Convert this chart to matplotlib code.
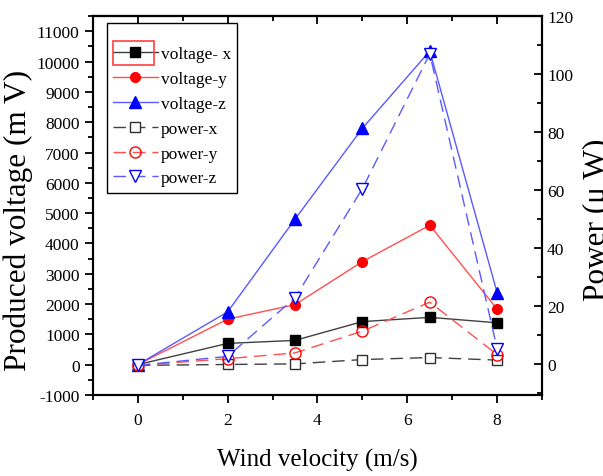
import matplotlib
matplotlib.use('Agg')
import matplotlib.pyplot as plt
from matplotlib.ticker import MultipleLocator
from matplotlib.patches import Rectangle

plt.rcParams['font.family'] = ['Liberation Serif', 'DejaVu Serif']
plt.rcParams['axes.unicode_minus'] = False

wind = [0, 2, 3.5, 5, 6.5, 8]
volt_x = [0, 700, 800, 1420, 1560, 1380]
volt_y = [0, 1500, 1980, 3400, 4600, 1830]
volt_z = [0, 1740, 4800, 7800, 10350, 2370]
pow_x = [-0.5, -0.2, 0, 1.5, 2.2, 1.3]
pow_y = [-0.5, 1.8, 3.8, 11.3, 21.3, 3.2]
pow_z = [-0.5, 2.6, 22.8, 60.5, 107, 5.2]

fig = plt.figure(figsize=(6.03, 4.77), dpi=100)
ax = fig.add_axes([0.154, 0.170, 0.745, 0.794])
ax2 = ax.twinx()

l1, = ax.plot(wind, volt_x, color='#404040', lw=1, marker='s', ms=7,
              mfc='black', mec='black', label='voltage- x')
l2, = ax.plot(wind, volt_y, color='#ff5050', lw=1, marker='o', ms=7,
              mfc='red', mec='red', label='voltage-y')
l3, = ax.plot(wind, volt_z, color='#5a5aff', lw=1, marker='^', ms=8,
              mfc='blue', mec='blue', label='voltage-z')
d = (0, (9, 5))
p1, = ax2.plot(wind, pow_x, color='#404040', lw=1, ls=d, marker='s', ms=7,
               mfc='white', mec='#303030', label='power-x')
p2, = ax2.plot(wind, pow_y, color='#ff5050', lw=1, ls=d, marker='o', ms=8,
               mfc='none', mec='red', label='power-y')
p3, = ax2.plot(wind, pow_z, color='#5a5aff', lw=1, ls=d, marker='v', ms=8,
               mfc='white', mec='blue', label='power-z')

ax.set_xlim(-1, 9)
ax.set_ylim(-1000, 11500)
ax2.set_ylim(-10.7, 120)

ax.xaxis.set_major_locator(MultipleLocator(2))
ax.xaxis.set_minor_locator(MultipleLocator(1))
ax.yaxis.set_major_locator(MultipleLocator(1000))
ax.yaxis.set_minor_locator(MultipleLocator(500))
ax2.yaxis.set_minor_locator(MultipleLocator(10))
ax2.set_yticks([0, 20, 40, 60, 80, 100, 120])

ax.tick_params(which='major', direction='out', length=6, width=1.3, labelsize=12.5)
ax.tick_params(axis='x', pad=6)
ax.tick_params(which='minor', direction='out', length=3.5, width=1.3)
ax2.tick_params(which='major', direction='in', length=6, width=1.3, labelsize=12.5)
ax2.tick_params(which='minor', direction='in', length=3.5, width=1.3)

top = ax.secondary_xaxis('top')
top.xaxis.set_major_locator(MultipleLocator(2))
top.xaxis.set_minor_locator(MultipleLocator(1))
top.tick_params(which='major', direction='in', length=6, width=1.3, labeltop=False)
top.tick_params(which='minor', direction='in', length=3.5, width=1.3)

for a in (ax, ax2):
    for s in a.spines.values():
        s.set_linewidth(1.5)
top.spines['top'].set_linewidth(1.5)

ax.set_xlabel('Wind velocity (m/s)', fontsize=18)
ax.xaxis.set_label_coords(0.5, -0.14)
ax.set_ylabel('Produced voltage (m V)', fontsize=22.5)
ax.yaxis.set_label_coords(-0.134, 0.464)
ax2.set_ylabel('Power (\u03bc W)', fontsize=22.5)
ax2.yaxis.set_label_coords(1.091, 0.464)

leg = ax2.legend(handles=[l1, l2, l3, p1, p2, p3], loc='upper left',
                 bbox_to_anchor=(0.031, 0.981), borderaxespad=0, fontsize=12.5,
                 fancybox=False, edgecolor='black', framealpha=1,
                 handlelength=2.6, labelspacing=0.5, borderpad=0.35,
                 handletextpad=0.15, title=' ', title_fontsize=6)
leg.get_frame().set_linewidth(1)

# red selection box around the first legend key, as in the source image
fig.patches.append(Rectangle((113 / 603, 1 - 66 / 477), 41 / 603, 24 / 477,
                             transform=fig.transFigure, fill=False,
                             ec='#ff4040', lw=1.2, zorder=10))

fig.savefig('out.png', dpi=100)
